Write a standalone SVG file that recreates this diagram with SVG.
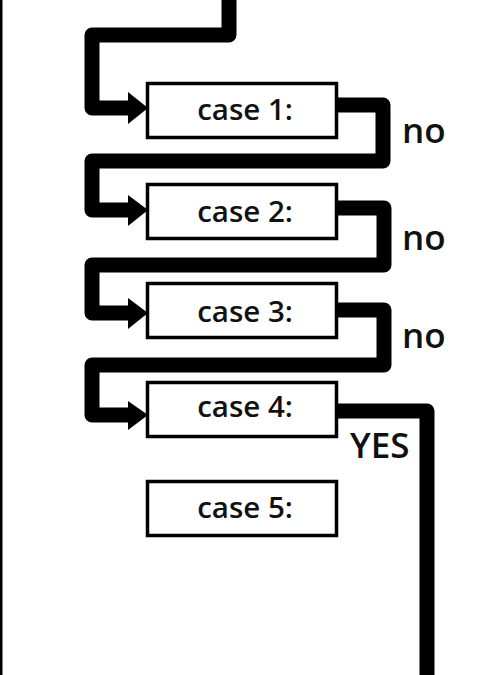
<svg xmlns="http://www.w3.org/2000/svg" width="483" height="675" viewBox="0 0 483 675">
<style>
.box{fill:#fff;stroke:#000;stroke-width:3.5}
.lbl{font-family:"Open Sans","Noto Sans",sans-serif;font-size:29.5px;font-weight:600;fill:#111;text-anchor:middle}
.ann{font-family:"Open Sans","Noto Sans",sans-serif;font-size:35px;font-weight:600;fill:#111}
.wire{fill:none;stroke:#000;stroke-width:15;stroke-linejoin:round}
.head{fill:#000}
</style>
<rect x="0" y="0" width="483" height="675" fill="#fff"/>
<rect x="0" y="0" width="2.5" height="675" fill="#000"/>
<g id="connectors">
<path class="wire" d="M229,0 V35 H92 V108 H130"/>
<polygon class="head" points="128,92 148,108 128,124"/>
<path class="wire" d="M338,105 H383 V161 H92 V210 H130"/>
<polygon class="head" points="128,195 148,210 128,226"/>
<path class="wire" d="M338,208 H384 V265 H92 V313 H130"/>
<polygon class="head" points="128,298 148,313 128,329"/>
<path class="wire" d="M338,310 H384 V365 H92 V415 H130"/>
<polygon class="head" points="128,401 148,415 128,430"/>
<path class="wire" d="M338,411 H427 V675"/>
<text class="ann" x="402" y="143">no</text>
<text class="ann" x="402" y="250">no</text>
<text class="ann" x="402" y="348">no</text>
<text class="ann" x="350" y="458">YES</text>
</g>
<g id="case1"><rect class="box" x="147.5" y="83.5" width="189" height="54"/><text class="lbl" x="245" y="120">case 1:</text></g>
<g id="case2"><rect class="box" x="147.5" y="184.5" width="189" height="54"/><text class="lbl" x="245" y="222">case 2:</text></g>
<g id="case3"><rect class="box" x="147.5" y="283.5" width="189" height="54"/><text class="lbl" x="245" y="322">case 3:</text></g>
<g id="case4"><rect class="box" x="147.5" y="382.5" width="189" height="54"/><text class="lbl" x="245" y="417">case 4:</text></g>
<g id="case5"><rect class="box" x="147.5" y="481.5" width="189" height="54"/><text class="lbl" x="245" y="518">case 5:</text></g>
</svg>
